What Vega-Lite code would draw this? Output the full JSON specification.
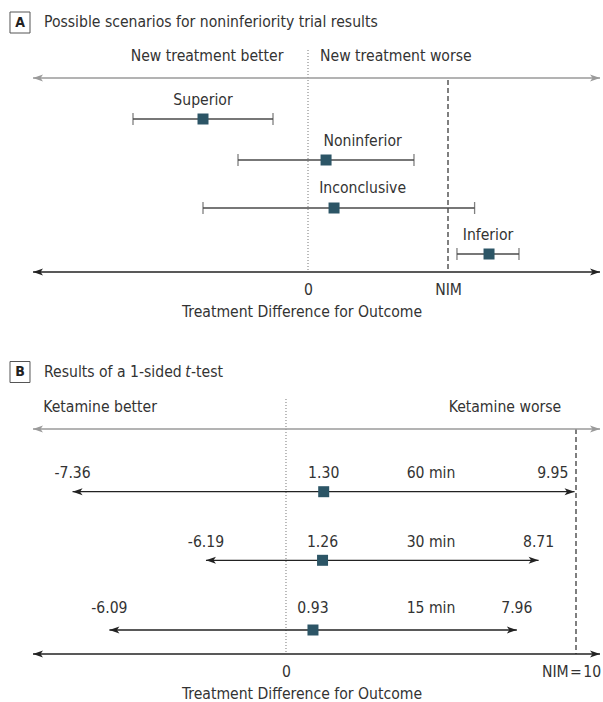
{
  "$schema": "https://vega.github.io/schema/vega-lite/v6.json",
  "padding": 0,
  "spacing": 30,
  "background": "white",
  "config": {
    "view": {"stroke": null},
    "font": "DejaVu Sans Condensed",
    "text": {"font": "DejaVu Sans Condensed", "fontSize": 15.6, "color": "#333"}
  },
  "vconcat": [
    {
      "width": 603,
      "height": 272,
      "encoding": {
        "x": {
          "field": "x", "type": "quantitative",
          "scale": {"domain": [-22, 21.0714], "nice": false, "zero": false},
          "axis": {
            "values": [0, 10],
            "labelExpr": "datum.value == 0 ? '0' : 'NIM'",
            "grid": false, "ticks": false, "domain": false,
            "labelPadding": 10, "labelFontSize": 15.6, "labelColor": "#333",
            "labelFont": "DejaVu Sans Condensed",
            "title": "Treatment Difference for Outcome",
            "titleFont": "DejaVu Sans Condensed", "titleFontSize": 15.6,
            "titleFontWeight": "normal", "titleColor": "#333", "titlePadding": 7
          }
        },
        "y": {
          "field": "y", "type": "quantitative",
          "scale": {"domain": [0, 27.2], "reverse": true, "nice": false, "zero": false},
          "axis": null
        }
      },
      "layer": [
        {
          "data": {"values": [{"x": -21.286, "x2": -19.857, "y": 1.2, "y2": 3.3}]},
          "mark": {"type": "rect", "fill": "white", "stroke": "#555", "strokeWidth": 1},
          "encoding": {"x2": {"field": "x2"}, "y2": {"field": "y2"}}
        },
        {
          "data": {"values": [{"x": -20.57, "y": 2.25, "label": "A"}]},
          "mark": {"type": "text", "fontWeight": "bold", "fontSize": 14, "color": "#222"},
          "encoding": {"text": {"field": "label"}}
        },
        {
          "data": {"values": [
            {"x": -18.857, "y": 2.2, "label": "Possible scenarios for noninferiority trial results"},
            {"x": 0.86, "y": 5.6, "label": "New treatment worse"}
          ]},
          "mark": {"type": "text", "align": "left"},
          "encoding": {"text": {"field": "label"}}
        },
        {
          "data": {"values": [
            {"x": -7.21, "y": 5.6, "label": "New treatment better"},
            {"x": -7.5, "y": 10.0, "label": "Superior"},
            {"x": 3.9, "y": 14.1, "label": "Noninferior"},
            {"x": 3.9, "y": 18.8, "label": "Inconclusive"},
            {"x": 12.86, "y": 23.5, "label": "Inferior"}
          ]},
          "mark": {"type": "text", "align": "center"},
          "encoding": {"text": {"field": "label"}}
        },
        {
          "data": {"values": [{"x": 0, "y": 5.0, "y2": 27.2}]},
          "mark": {"type": "rule", "color": "#777", "strokeDash": [1, 2], "strokeWidth": 1},
          "encoding": {"y2": {"field": "y2"}}
        },
        {
          "data": {"values": [{"x": 10, "y": 8.0, "y2": 27.2}]},
          "mark": {"type": "rule", "color": "#555", "strokeDash": [5, 3], "strokeWidth": 1.5},
          "encoding": {"y2": {"field": "y2"}}
        },
        {
          "data": {"values": [{"x": -19.64, "x2": 20.86, "y": 7.8}]},
          "mark": {"type": "rule", "color": "#9a9a9a", "strokeWidth": 1.5},
          "encoding": {"x2": {"field": "x2"}}
        },
        {
          "data": {"values": [{"x": -19.64, "y": 7.8, "dir": "left"}, {"x": 20.86, "y": 7.8, "dir": "right"}]},
          "mark": {"type": "point", "filled": true, "color": "#9a9a9a", "opacity": 1, "size": 100},
          "encoding": {"shape": {"field": "dir", "type": "nominal", "legend": null,
            "scale": {"domain": ["left", "right"], "range": ["M0,0L2,-0.7L1.5,0L2,0.7Z", "M0,0L-2,-0.7L-1.5,0L-2,0.7Z"]}}}
        },
        {
          "data": {"values": [
            {"scenario": "Superior", "x": -12.5, "x2": -2.5, "y": 11.9},
            {"scenario": "Noninferior", "x": -5.0, "x2": 7.57, "y": 16.0},
            {"scenario": "Inconclusive", "x": -7.5, "x2": 11.9, "y": 20.8},
            {"scenario": "Inferior", "x": 10.64, "x2": 15.07, "y": 25.4}
          ]},
          "mark": {"type": "rule", "color": "#4a4a4a", "strokeWidth": 1.3},
          "encoding": {"x2": {"field": "x2"}}
        },
        {
          "data": {"values": [
            {"x": -12.5, "y": 11.9}, {"x": -2.5, "y": 11.9},
            {"x": -5.0, "y": 16.0}, {"x": 7.57, "y": 16.0},
            {"x": -7.5, "y": 20.8}, {"x": 11.9, "y": 20.8},
            {"x": 10.64, "y": 25.4}, {"x": 15.07, "y": 25.4}
          ]},
          "mark": {"type": "tick", "orient": "vertical", "color": "#4a4a4a", "thickness": 1.3, "size": 12},
          "encoding": {}
        },
        {
          "data": {"values": [
            {"scenario": "Superior", "x": -7.5, "y": 11.9},
            {"scenario": "Noninferior", "x": 1.29, "y": 16.0},
            {"scenario": "Inconclusive", "x": 1.86, "y": 20.8},
            {"scenario": "Inferior", "x": 12.93, "y": 25.4}
          ]},
          "mark": {"type": "square", "color": "#2c5566", "opacity": 1, "size": 121},
          "encoding": {}
        },
        {
          "data": {"values": [{"x": -19.64, "x2": 20.86, "y": 27.2}]},
          "mark": {"type": "rule", "color": "#222", "strokeWidth": 1.5},
          "encoding": {"x2": {"field": "x2"}}
        },
        {
          "data": {"values": [{"x": -19.64, "y": 27.2, "dir": "left"}, {"x": 20.86, "y": 27.2, "dir": "right"}]},
          "mark": {"type": "point", "filled": true, "color": "#222", "opacity": 1, "size": 100},
          "encoding": {"shape": {"field": "dir", "type": "nominal", "legend": null,
            "scale": {"domain": ["left", "right"], "range": ["M0,0L2,-0.7L1.5,0L2,0.7Z", "M0,0L-2,-0.7L-1.5,0L-2,0.7Z"]}}}
        }
      ]
    },
    {
      "width": 603,
      "height": 303,
      "encoding": {
        "x": {
          "field": "x", "type": "quantitative",
          "scale": {"domain": [-9.862, 10.931], "nice": false, "zero": false},
          "axis": {
            "values": [0, 10],
            "labelExpr": "datum.value == 0 ? '0' : 'NIM\u200a=\u200a10'",
            "grid": false, "ticks": false, "domain": false,
            "labelPadding": 10, "labelFontSize": 15.6, "labelColor": "#333",
            "labelFont": "DejaVu Sans Condensed",
            "labelOffset": {"condition": {"test": "datum.value == 10", "value": -5}, "value": 0},
            "title": "Treatment Difference for Outcome",
            "titleFont": "DejaVu Sans Condensed", "titleFontSize": 15.6,
            "titleFontWeight": "normal", "titleColor": "#333", "titlePadding": 7
          }
        },
        "y": {
          "field": "y", "type": "quantitative",
          "scale": {"domain": [0, 30.3], "reverse": true, "nice": false, "zero": false},
          "axis": null
        }
      },
      "layer": [
        {
          "data": {"values": [{"x": -9.517, "x2": -8.828, "y": 1.05, "y2": 3.15}]},
          "mark": {"type": "rect", "fill": "white", "stroke": "#555", "strokeWidth": 1},
          "encoding": {"x2": {"field": "x2"}, "y2": {"field": "y2"}}
        },
        {
          "data": {"values": [{"x": -9.172, "y": 2.1, "label": "B"}]},
          "mark": {"type": "text", "fontWeight": "bold", "fontSize": 14, "color": "#222"},
          "encoding": {"text": {"field": "label"}}
        },
        {
          "data": {"values": [
            {"x": -8.345, "y": 2.05, "label": "Results of a 1-sided"},
            {"x": -3.276, "y": 2.05, "label": "-test"}
          ]},
          "mark": {"type": "text", "align": "left"},
          "encoding": {"text": {"field": "label"}}
        },
        {
          "data": {"values": [{"x": -3.47, "y": 2.05, "label": "t"}]},
          "mark": {"type": "text", "align": "left", "fontStyle": "italic"},
          "encoding": {"text": {"field": "label"}}
        },
        {
          "data": {"values": [
            {"x": -6.41, "y": 5.6, "label": "Ketamine better"},
            {"x": 7.55, "y": 5.6, "label": "Ketamine worse"},
            {"x": -7.36, "y": 12.17, "label": "-7.36"},
            {"x": 1.30, "y": 12.17, "label": "1.30"},
            {"x": 5.0, "y": 12.17, "label": "60 min"},
            {"x": 9.2, "y": 12.17, "label": "9.95"},
            {"x": -2.76, "y": 19.07, "label": "-6.19"},
            {"x": 1.26, "y": 19.07, "label": "1.26"},
            {"x": 5.0, "y": 19.07, "label": "30 min"},
            {"x": 8.71, "y": 19.07, "label": "8.71"},
            {"x": -6.09, "y": 25.73, "label": "-6.09"},
            {"x": 0.93, "y": 25.73, "label": "0.93"},
            {"x": 5.0, "y": 25.73, "label": "15 min"},
            {"x": 7.96, "y": 25.73, "label": "7.96"}
          ]},
          "mark": {"type": "text", "align": "center"},
          "encoding": {"text": {"field": "label"}}
        },
        {
          "data": {"values": [{"x": 0, "y": 4.8, "y2": 30.3}]},
          "mark": {"type": "rule", "color": "#777", "strokeDash": [1, 2], "strokeWidth": 1},
          "encoding": {"y2": {"field": "y2"}}
        },
        {
          "data": {"values": [{"x": 10, "y": 7.8, "y2": 30.3}]},
          "mark": {"type": "rule", "color": "#555", "strokeDash": [5, 3], "strokeWidth": 1.5},
          "encoding": {"y2": {"field": "y2"}}
        },
        {
          "data": {"values": [{"x": -8.724, "x2": 10.828, "y": 7.8}]},
          "mark": {"type": "rule", "color": "#9a9a9a", "strokeWidth": 1.5},
          "encoding": {"x2": {"field": "x2"}}
        },
        {
          "data": {"values": [{"x": -8.724, "y": 7.8, "dir": "left"}, {"x": 10.828, "y": 7.8, "dir": "right"}]},
          "mark": {"type": "point", "filled": true, "color": "#9a9a9a", "opacity": 1, "size": 100},
          "encoding": {"shape": {"field": "dir", "type": "nominal", "legend": null,
            "scale": {"domain": ["left", "right"], "range": ["M0,0L2,-0.7L1.5,0L2,0.7Z", "M0,0L-2,-0.7L-1.5,0L-2,0.7Z"]}}}
        },
        {
          "data": {"values": [
            {"time": "60 min", "x": -7.36, "x2": 9.95, "y": 14.07},
            {"time": "30 min", "x": -2.76, "x2": 8.71, "y": 20.93},
            {"time": "15 min", "x": -6.09, "x2": 7.96, "y": 27.9}
          ]},
          "mark": {"type": "rule", "color": "#222", "strokeWidth": 1.3},
          "encoding": {"x2": {"field": "x2"}}
        },
        {
          "data": {"values": [
            {"x": -7.36, "y": 14.07, "dir": "left"}, {"x": 9.95, "y": 14.07, "dir": "right"},
            {"x": -2.76, "y": 20.93, "dir": "left"}, {"x": 8.71, "y": 20.93, "dir": "right"},
            {"x": -6.09, "y": 27.9, "dir": "left"}, {"x": 7.96, "y": 27.9, "dir": "right"}
          ]},
          "mark": {"type": "point", "filled": true, "color": "#222", "opacity": 1, "size": 100},
          "encoding": {"shape": {"field": "dir", "type": "nominal", "legend": null,
            "scale": {"domain": ["left", "right"], "range": ["M0,0L2,-0.7L1.5,0L2,0.7Z", "M0,0L-2,-0.7L-1.5,0L-2,0.7Z"]}}}
        },
        {
          "data": {"values": [
            {"time": "60 min", "x": 1.30, "y": 14.07},
            {"time": "30 min", "x": 1.26, "y": 20.93},
            {"time": "15 min", "x": 0.93, "y": 27.9}
          ]},
          "mark": {"type": "square", "color": "#2c5566", "opacity": 1, "size": 121},
          "encoding": {}
        },
        {
          "data": {"values": [{"x": -8.724, "x2": 10.828, "y": 30.3}]},
          "mark": {"type": "rule", "color": "#222", "strokeWidth": 1.5},
          "encoding": {"x2": {"field": "x2"}}
        },
        {
          "data": {"values": [{"x": -8.724, "y": 30.3, "dir": "left"}, {"x": 10.828, "y": 30.3, "dir": "right"}]},
          "mark": {"type": "point", "filled": true, "color": "#222", "opacity": 1, "size": 100},
          "encoding": {"shape": {"field": "dir", "type": "nominal", "legend": null,
            "scale": {"domain": ["left", "right"], "range": ["M0,0L2,-0.7L1.5,0L2,0.7Z", "M0,0L-2,-0.7L-1.5,0L-2,0.7Z"]}}}
        }
      ]
    }
  ]
}
